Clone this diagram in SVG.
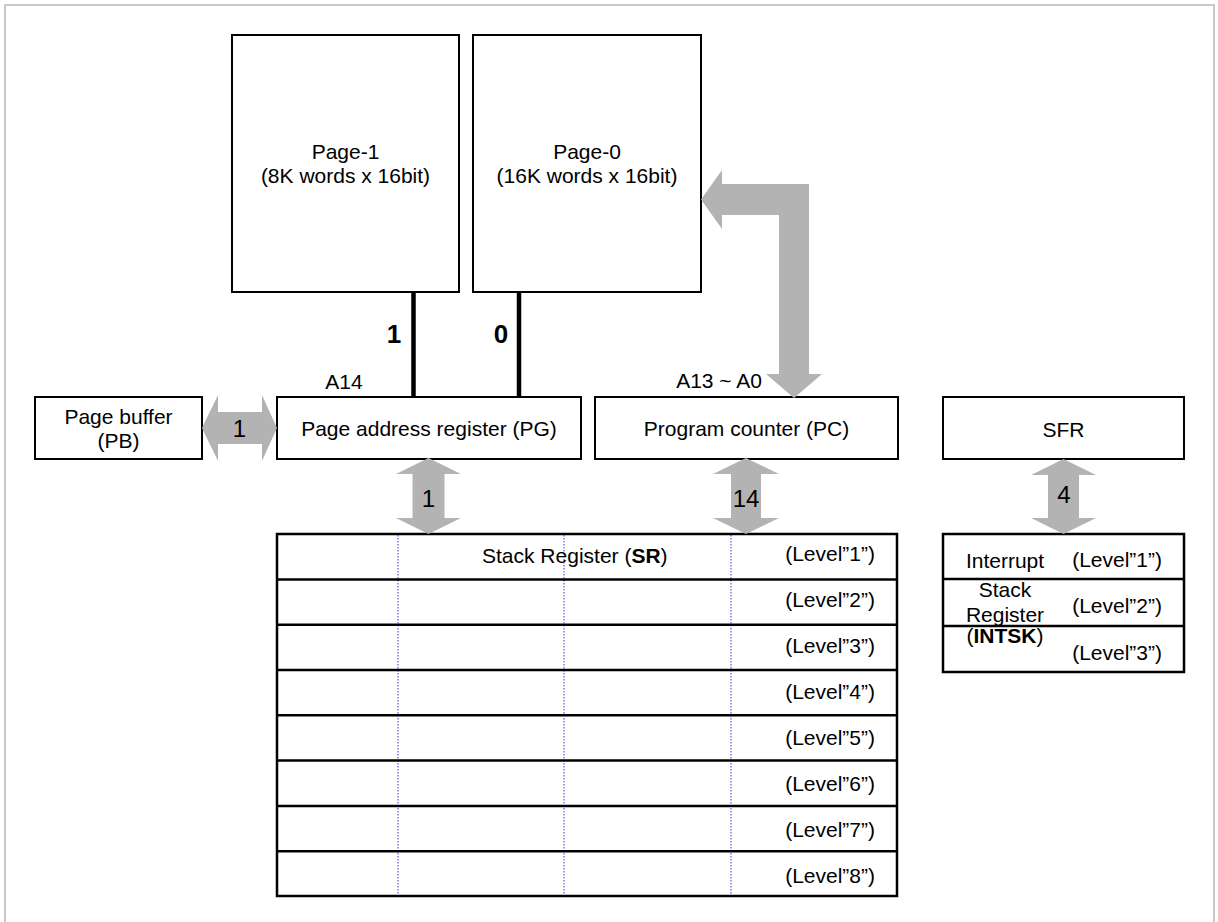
<svg xmlns="http://www.w3.org/2000/svg" width="1218" height="922" viewBox="0 0 1218 922">
<style>
  text { font-family: "Liberation Sans", Arial, sans-serif; font-size: 21px; fill: #000; }
  .box { fill: #fff; stroke: #000; stroke-width: 2; }
  .row { fill: none; stroke: #000; stroke-width: 2.5; }
  .dot { stroke: #3a3ad0; stroke-width: 1; stroke-dasharray: 1.5 1.5; }
  .arrow { fill: #b3b3b3; stroke: none; }
  .bus { stroke: #000; stroke-width: 4.5; }
  .mid { text-anchor: middle; }
  .end { text-anchor: end; }
  .lbl { font-size: 24px; text-anchor: middle; }
  .bold { font-size: 26px; font-weight: bold; text-anchor: middle; }
</style>
<rect x="0" y="0" width="1218" height="922" fill="#fff"/>
<rect x="5" y="5" width="1209" height="940" fill="none" stroke="#c8c8c8" stroke-width="2"/>

<g id="page1">
  <rect class="box" x="232" y="35" width="227" height="257"/>
  <text class="mid" x="345.5" y="159">Page-1</text>
  <text class="mid" x="345.5" y="183">(8K words x 16bit)</text>
</g>
<g id="page0">
  <rect class="box" x="473" y="35" width="228" height="257"/>
  <text class="mid" x="587" y="159">Page-0</text>
  <text class="mid" x="587" y="183">(16K words x 16bit)</text>
</g>
<g id="pb">
  <rect class="box" x="35" y="397" width="167" height="62"/>
  <text class="mid" x="118.5" y="424">Page buffer</text>
  <text class="mid" x="118.5" y="448">(PB)</text>
</g>
<g id="pg">
  <rect class="box" x="277" y="397" width="304" height="62"/>
  <text class="mid" x="429" y="436">Page address register (PG)</text>
</g>
<g id="pc">
  <rect class="box" x="595" y="397" width="303" height="62"/>
  <text class="mid" x="746.5" y="436">Program counter (PC)</text>
</g>
<g id="sfr">
  <rect class="box" x="943" y="397" width="241" height="62"/>
  <text class="mid" x="1063.5" y="437">SFR</text>
</g>

<g id="sr">
  <rect x="277" y="534" width="620" height="362" fill="#fff"/>
  <line class="dot" x1="398" y1="535" x2="398" y2="895"/>
  <line class="dot" x1="564" y1="535" x2="564" y2="895"/>
  <line class="dot" x1="731" y1="535" x2="731" y2="895"/>
  <rect class="row" x="277" y="534" width="620" height="362"/>
  <line class="row" x1="277" y1="579.5" x2="897" y2="579.5"/>
  <line class="row" x1="277" y1="624.8" x2="897" y2="624.8"/>
  <line class="row" x1="277" y1="670" x2="897" y2="670"/>
  <line class="row" x1="277" y1="715.3" x2="897" y2="715.3"/>
  <line class="row" x1="277" y1="760.5" x2="897" y2="760.5"/>
  <line class="row" x1="277" y1="806" x2="897" y2="806"/>
  <line class="row" x1="277" y1="851.3" x2="897" y2="851.3"/>
  <text x="482" y="563">Stack Register (<tspan font-weight="bold">SR</tspan>)</text>
  <text class="end" x="875" y="561">(Level”1”)</text>
  <text class="end" x="875" y="607">(Level”2”)</text>
  <text class="end" x="875" y="653">(Level”3”)</text>
  <text class="end" x="875" y="699">(Level”4”)</text>
  <text class="end" x="875" y="745">(Level”5”)</text>
  <text class="end" x="875" y="791">(Level”6”)</text>
  <text class="end" x="875" y="837">(Level”7”)</text>
  <text class="end" x="875" y="883">(Level”8”)</text>
</g>

<g id="intsk">
  <rect class="row" x="943" y="534" width="241" height="138" fill="#fff"/>
  <line class="row" x1="943" y1="579" x2="1184" y2="579"/>
  <line class="row" x1="943" y1="626" x2="1184" y2="626"/>
  <text class="mid" x="1005" y="568">Interrupt</text>
  <text class="mid" x="1005" y="597">Stack</text>
  <text class="mid" x="1005" y="622">Register</text>
  <text class="mid" x="1005" y="643">(<tspan font-weight="bold">INTSK</tspan>)</text>
  <text class="end" x="1162" y="567">(Level”1”)</text>
  <text class="end" x="1162" y="613">(Level”2”)</text>
  <text class="end" x="1162" y="660">(Level”3”)</text>
</g>

<g id="connectors">
  <line class="bus" x1="413.5" y1="292" x2="413.5" y2="397"/>
  <line class="bus" x1="519" y1="292" x2="519" y2="397"/>
  <path class="arrow" d="M202,428 L218,395 L218,412 L262,412 L262,395 L277,428 L262,461 L262,444 L218,444 L218,461 Z"/>
  <path class="arrow" d="M701,199.5 L722,170 L722,184 L809,184 L809,374 L822,374 L794,398 L766,374 L779,374 L779,215 L722,215 L722,229 Z"/>
  <path class="arrow" d="M428.5,458 L461,474 L444.5,474 L444.5,518 L461,518 L428.5,534 L396,518 L412.5,518 L412.5,474 L396,474 Z"/>
  <path class="arrow" d="M746,458 L779,474 L761,474 L761,518 L779,518 L746,534 L713,518 L731,518 L731,474 L713,474 Z"/>
  <path class="arrow" d="M1063.5,459 L1096,475 L1079,475 L1079,518 L1096,518 L1063.5,534 L1031,518 L1048,518 L1048,475 L1031,475 Z"/>
  <text class="bold" x="394" y="343">1</text>
  <text class="bold" x="501" y="343">0</text>
  <text class="mid" x="344" y="389">A14</text>
  <text class="end" x="762" y="388">A13 ~ A0</text>
  <text class="lbl" x="239.5" y="437">1</text>
  <text class="lbl" x="428.5" y="507">1</text>
  <text class="lbl" x="746" y="507">14</text>
  <text class="lbl" x="1064" y="503">4</text>
</g>
</svg>
